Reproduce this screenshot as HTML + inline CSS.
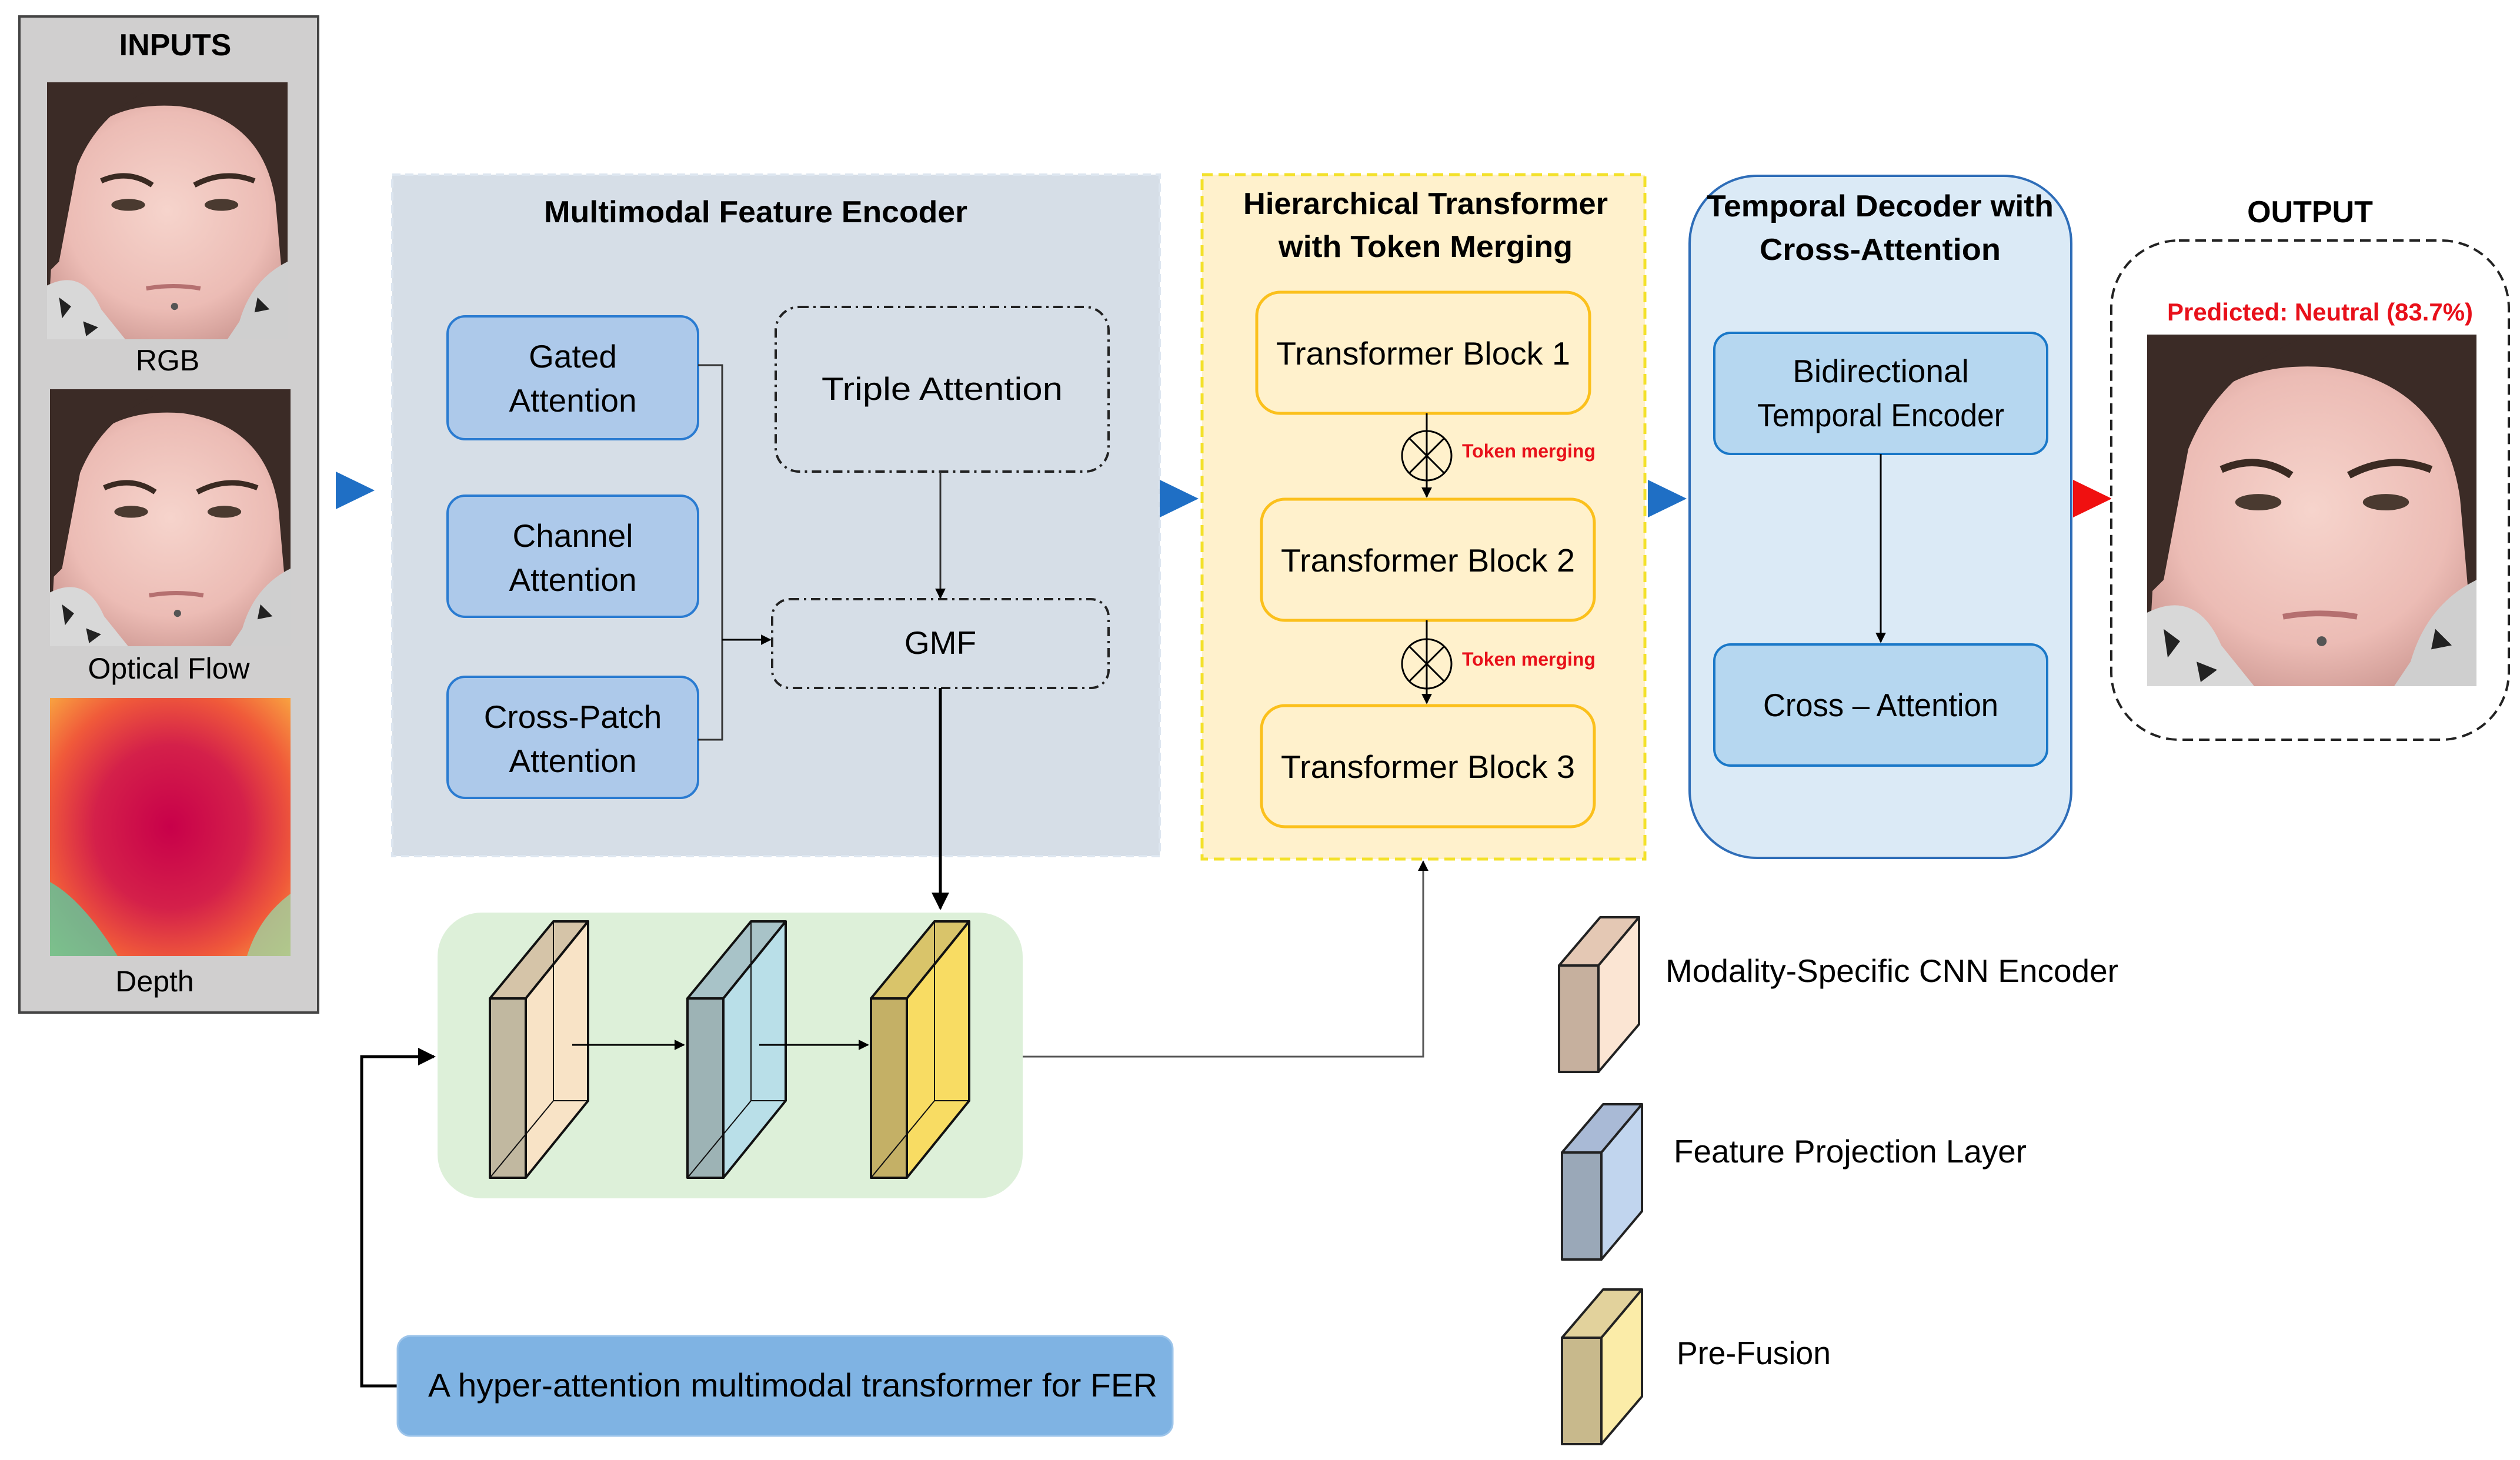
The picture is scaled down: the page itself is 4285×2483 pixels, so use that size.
<!DOCTYPE html>
<html><head><meta charset="utf-8"><style>
html,body{margin:0;padding:0;background:#fff;}
svg{display:block;}
text{font-family:"Liberation Sans",sans-serif;}
</style></head><body>
<svg width="4285" height="2483" viewBox="0 0 4285 2483" xmlns="http://www.w3.org/2000/svg">
<defs>
<marker id="ar" viewBox="0 0 10 10" refX="9" refY="5" markerWidth="6" markerHeight="6" orient="auto"><path d="M0,0 L10,5 L0,10 z" fill="#000"/></marker>
<radialGradient id="skin" cx="50%" cy="45%" r="60%"><stop offset="0" stop-color="#f6d4cc"/><stop offset="0.7" stop-color="#ecbcb5"/><stop offset="1" stop-color="#d09c96"/></radialGradient>
<radialGradient id="depth" cx="50%" cy="50%" r="70%"><stop offset="0" stop-color="#c8004a"/><stop offset="0.45" stop-color="#d4204a"/><stop offset="0.75" stop-color="#f05a3a"/><stop offset="1" stop-color="#f8a040"/></radialGradient>
<symbol id="face" viewBox="0 0 400 430" preserveAspectRatio="none">
<rect width="400" height="430" fill="#3b2b26"/>
<path d="M40,120 Q90,30 220,40 Q360,60 380,200 L400,430 L0,430 L10,250Z" fill="url(#skin)"/>
<path d="M0,0 L200,0 Q90,40 50,140 L20,300 L0,320Z" fill="#3b2b26"/>
<path d="M0,340 Q60,310 90,380 L130,430 L0,430Z" fill="#d8d8d8"/>
<path d="M400,300 Q340,330 320,400 L300,430 L400,430Z" fill="#cfcfcf"/>
<path d="M20,360 l20,15 l-15,20z M60,400 l25,10 l-20,15z M350,360 l20,20 l-25,5z" fill="#222"/>
<path d="M90,165 Q135,145 175,172" stroke="#3a2a22" stroke-width="9" fill="none"/>
<path d="M245,172 Q295,145 345,165" stroke="#3a2a22" stroke-width="9" fill="none"/>
<ellipse cx="135" cy="205" rx="28" ry="10" fill="#4a3a30"/>
<ellipse cx="290" cy="205" rx="28" ry="10" fill="#4a3a30"/>
<path d="M165,345 Q210,337 255,345" stroke="#b57070" stroke-width="7" fill="none"/>
<circle cx="212" cy="375" r="6" fill="#555"/>
</symbol>
</defs>

<rect x="33" y="28" width="508" height="1694" fill="#d0cfcf" stroke="#444" stroke-width="4"/>
<text x="298" y="94" font-size="52" font-weight="bold" text-anchor="middle">INPUTS</text>
<use href="#face" x="80" y="140" width="409" height="437"/>
<text x="285" y="630" font-size="50" text-anchor="middle">RGB</text>
<use href="#face" x="85" y="662" width="409" height="437"/>
<text x="287" y="1154" font-size="50" text-anchor="middle">Optical Flow</text>
<rect x="85" y="1187" width="409" height="439" fill="url(#depth)"/>
<path d="M85,1500 Q140,1530 200,1626 L85,1626Z" fill="#5cc9a0" opacity="0.8"/>
<path d="M494,1520 Q440,1560 420,1626 L494,1626Z" fill="#9fd2a0" opacity="0.8"/>
<text x="263" y="1686" font-size="50" text-anchor="middle">Depth</text>

<polygon points="571,802 637,834 571,866" fill="#1f6fc5"/>

<rect x="667" y="297" width="1305" height="1159" fill="#d6dee7" stroke="#dde6f0" stroke-width="4" stroke-dasharray="14,8"/>
<text x="1285" y="378" font-size="52" font-weight="bold" text-anchor="middle" textLength="720" lengthAdjust="spacingAndGlyphs">Multimodal Feature Encoder</text>
<g fill="#adc9ea" stroke="#2a7bd1" stroke-width="4">
<rect x="761" y="538" width="426" height="209" rx="30"/>
<rect x="761" y="843" width="426" height="206" rx="30"/>
<rect x="761" y="1151" width="426" height="206" rx="30"/>
</g>
<g font-size="55" text-anchor="middle">
<text x="974" y="625">Gated</text><text x="974" y="700">Attention</text>
<text x="974" y="930">Channel</text><text x="974" y="1005">Attention</text>
<text x="974" y="1238">Cross-Patch</text><text x="974" y="1313">Attention</text>
</g>
<path d="M1187,621 H1228 V1258 H1187" fill="none" stroke="#333" stroke-width="3"/>
<line x1="1228" y1="1088" x2="1310" y2="1088" stroke="#000" stroke-width="3" marker-end="url(#ar)"/>
<g fill="none" stroke="#222" stroke-width="4" stroke-dasharray="16,8,4,8">
<rect x="1319" y="522" width="566" height="280" rx="40"/>
<rect x="1313" y="1019" width="572" height="151" rx="30"/>
</g>
<text x="1602" y="680" font-size="55" text-anchor="middle" textLength="410" lengthAdjust="spacingAndGlyphs">Triple Attention</text>
<text x="1599" y="1112" font-size="55" text-anchor="middle">GMF</text>
<line x1="1599" y1="802" x2="1599" y2="1017" stroke="#333" stroke-width="3" marker-end="url(#ar)"/>
<line x1="1599" y1="1170" x2="1599" y2="1545" stroke="#000" stroke-width="5" marker-end="url(#ar)"/>

<rect x="744" y="1552" width="995" height="486" rx="75" fill="#ddf0d9"/>
<g stroke="#111" stroke-width="4" stroke-linejoin="round">
<g>
<polygon points="833,1698 941,1567 1000,1567 894,1698" fill="#d5c4a8"/>
<polygon points="894,1698 1000,1567 1000,1872 894,2003" fill="#f8e3c6"/>
<rect x="833" y="1698" width="61" height="305" fill="#c1b8a0"/>
<path d="M941,1567 V1872 H1000 M941,1872 L833,2003" fill="none" stroke-width="2"/>
</g>
<g>
<polygon points="1169,1698 1277,1567 1336,1567 1230,1698" fill="#a8c3c8"/>
<polygon points="1230,1698 1336,1567 1336,1872 1230,2003" fill="#b9dfe8"/>
<rect x="1169" y="1698" width="61" height="305" fill="#9db3b5"/>
<path d="M1277,1567 V1872 H1336 M1277,1872 L1169,2003" fill="none" stroke-width="2"/>
</g>
<g>
<polygon points="1481,1698 1589,1567 1648,1567 1542,1698" fill="#d9c46a"/>
<polygon points="1542,1698 1648,1567 1648,1872 1542,2003" fill="#f8dc63"/>
<rect x="1481" y="1698" width="61" height="305" fill="#c4b066"/>
<path d="M1589,1567 V1872 H1648 M1589,1872 L1481,2003" fill="none" stroke-width="2"/>
</g>
</g>
<line x1="973" y1="1777" x2="1163" y2="1777" stroke="#000" stroke-width="3" marker-end="url(#ar)"/>
<line x1="1291" y1="1777" x2="1476" y2="1777" stroke="#000" stroke-width="3" marker-end="url(#ar)"/>
<path d="M1739,1797 H2420 V1465" fill="none" stroke="#555" stroke-width="3" marker-end="url(#ar)"/>
<path d="M676,2357 H615 V1797 H738" fill="none" stroke="#000" stroke-width="5" marker-end="url(#ar)"/>

<rect x="676" y="2272" width="1318" height="170" rx="22" fill="#7fb3e3" stroke="#9cc4ea" stroke-width="3"/>
<text x="728" y="2375" font-size="56" textLength="1240" lengthAdjust="spacingAndGlyphs">A hyper-attention multimodal transformer for FER</text>

<polygon points="1972,816 2038,848 1972,880" fill="#1f6fc5"/>

<rect x="2044" y="297" width="753" height="1164" fill="#fff1cc" stroke="#f3e12a" stroke-width="5" stroke-dasharray="18,10"/>
<text x="2424" y="364" font-size="52" font-weight="bold" text-anchor="middle" textLength="620" lengthAdjust="spacingAndGlyphs">Hierarchical Transformer</text>
<text x="2424" y="437" font-size="52" font-weight="bold" text-anchor="middle" textLength="500" lengthAdjust="spacingAndGlyphs">with Token Merging</text>
<g fill="#fff1cc" stroke="#fbc01c" stroke-width="5">
<rect x="2137" y="497" width="566" height="206" rx="40"/>
<rect x="2145" y="849" width="566" height="206" rx="40"/>
<rect x="2145" y="1200" width="566" height="206" rx="40"/>
</g>
<g font-size="55" text-anchor="middle">
<text x="2420" y="620" textLength="500" lengthAdjust="spacingAndGlyphs">Transformer Block 1</text>
<text x="2428" y="972" textLength="500" lengthAdjust="spacingAndGlyphs">Transformer Block 2</text>
<text x="2428" y="1323" textLength="500" lengthAdjust="spacingAndGlyphs">Transformer Block 3</text>
</g>
<g stroke="#000" stroke-width="3" fill="none">
<line x1="2426" y1="703" x2="2426" y2="845" marker-end="url(#ar)"/>
<line x1="2426" y1="1055" x2="2426" y2="1196" marker-end="url(#ar)"/>
<circle cx="2426" cy="775" r="42"/><line x1="2396" y1="745" x2="2456" y2="805"/><line x1="2456" y1="745" x2="2396" y2="805"/>
<circle cx="2426" cy="1129" r="42"/><line x1="2396" y1="1099" x2="2456" y2="1159"/><line x1="2456" y1="1099" x2="2396" y2="1159"/>
</g>
<text x="2486" y="778" font-size="32" font-weight="bold" fill="#e8101a">Token merging</text>
<text x="2486" y="1132" font-size="32" font-weight="bold" fill="#e8101a">Token merging</text>

<polygon points="2802,816 2868,848 2802,880" fill="#1f6fc5"/>

<rect x="2873" y="299" width="649" height="1160" rx="115" fill="#dbeaf6" stroke="#2e6db8" stroke-width="4"/>
<text x="3197" y="368" font-size="52" font-weight="bold" text-anchor="middle" textLength="590" lengthAdjust="spacingAndGlyphs">Temporal Decoder with</text>
<text x="3197" y="442" font-size="52" font-weight="bold" text-anchor="middle" textLength="410" lengthAdjust="spacingAndGlyphs">Cross-Attention</text>
<g fill="#b6d7f0" stroke="#1a78c8" stroke-width="4">
<rect x="2915" y="566" width="566" height="206" rx="28"/>
<rect x="2915" y="1096" width="566" height="206" rx="28"/>
</g>
<text x="3198" y="650" font-size="55" text-anchor="middle">Bidirectional</text>
<text x="3198" y="725" font-size="55" text-anchor="middle" textLength="420" lengthAdjust="spacingAndGlyphs">Temporal Encoder</text>
<text x="3198" y="1218" font-size="55" text-anchor="middle" textLength="400" lengthAdjust="spacingAndGlyphs">Cross – Attention</text>
<line x1="3198" y1="772" x2="3198" y2="1092" stroke="#000" stroke-width="3" marker-end="url(#ar)"/>

<polygon points="3525,816 3591,848 3525,880" fill="#f01010"/>

<text x="3928" y="378" font-size="52" font-weight="bold" text-anchor="middle">OUTPUT</text>
<rect x="3590" y="409" width="676" height="849" rx="115" fill="#fff" stroke="#222" stroke-width="4" stroke-dasharray="18,10"/>
<text x="3945" y="545" font-size="42" font-weight="bold" fill="#e8101a" text-anchor="middle" textLength="520" lengthAdjust="spacingAndGlyphs">Predicted: Neutral (83.7%)</text>
<use href="#face" x="3651" y="569" width="560" height="598"/>

<g stroke="#222" stroke-width="4" stroke-linejoin="round">
<g>
<polygon points="2651,1642 2721,1560 2787,1560 2718,1642" fill="#e4c8b4"/>
<polygon points="2718,1642 2787,1560 2787,1742 2718,1823" fill="#fbe5d3"/>
<rect x="2651" y="1642" width="67" height="181" fill="#c6b09e"/>
</g>
<g>
<polygon points="2656,1960 2726,1878 2792,1878 2723,1960" fill="#a9bad6"/>
<polygon points="2723,1960 2792,1878 2792,2060 2723,2142" fill="#c1d5ee"/>
<rect x="2656" y="1960" width="67" height="182" fill="#9aa8b8"/>
</g>
<g>
<polygon points="2656,2275 2726,2193 2792,2193 2723,2275" fill="#e2d29c"/>
<polygon points="2723,2275 2792,2193 2792,2375 2723,2456" fill="#fbeca8"/>
<rect x="2656" y="2275" width="67" height="181" fill="#c8b98c"/>
</g>
</g>
<g font-size="55">
<text x="2832" y="1670" textLength="770" lengthAdjust="spacingAndGlyphs">Modality-Specific CNN Encoder</text>
<text x="2846" y="1977" textLength="600" lengthAdjust="spacingAndGlyphs">Feature Projection Layer</text>
<text x="2851" y="2320" textLength="262" lengthAdjust="spacingAndGlyphs">Pre-Fusion</text>
</g>
</svg>
</body></html>
